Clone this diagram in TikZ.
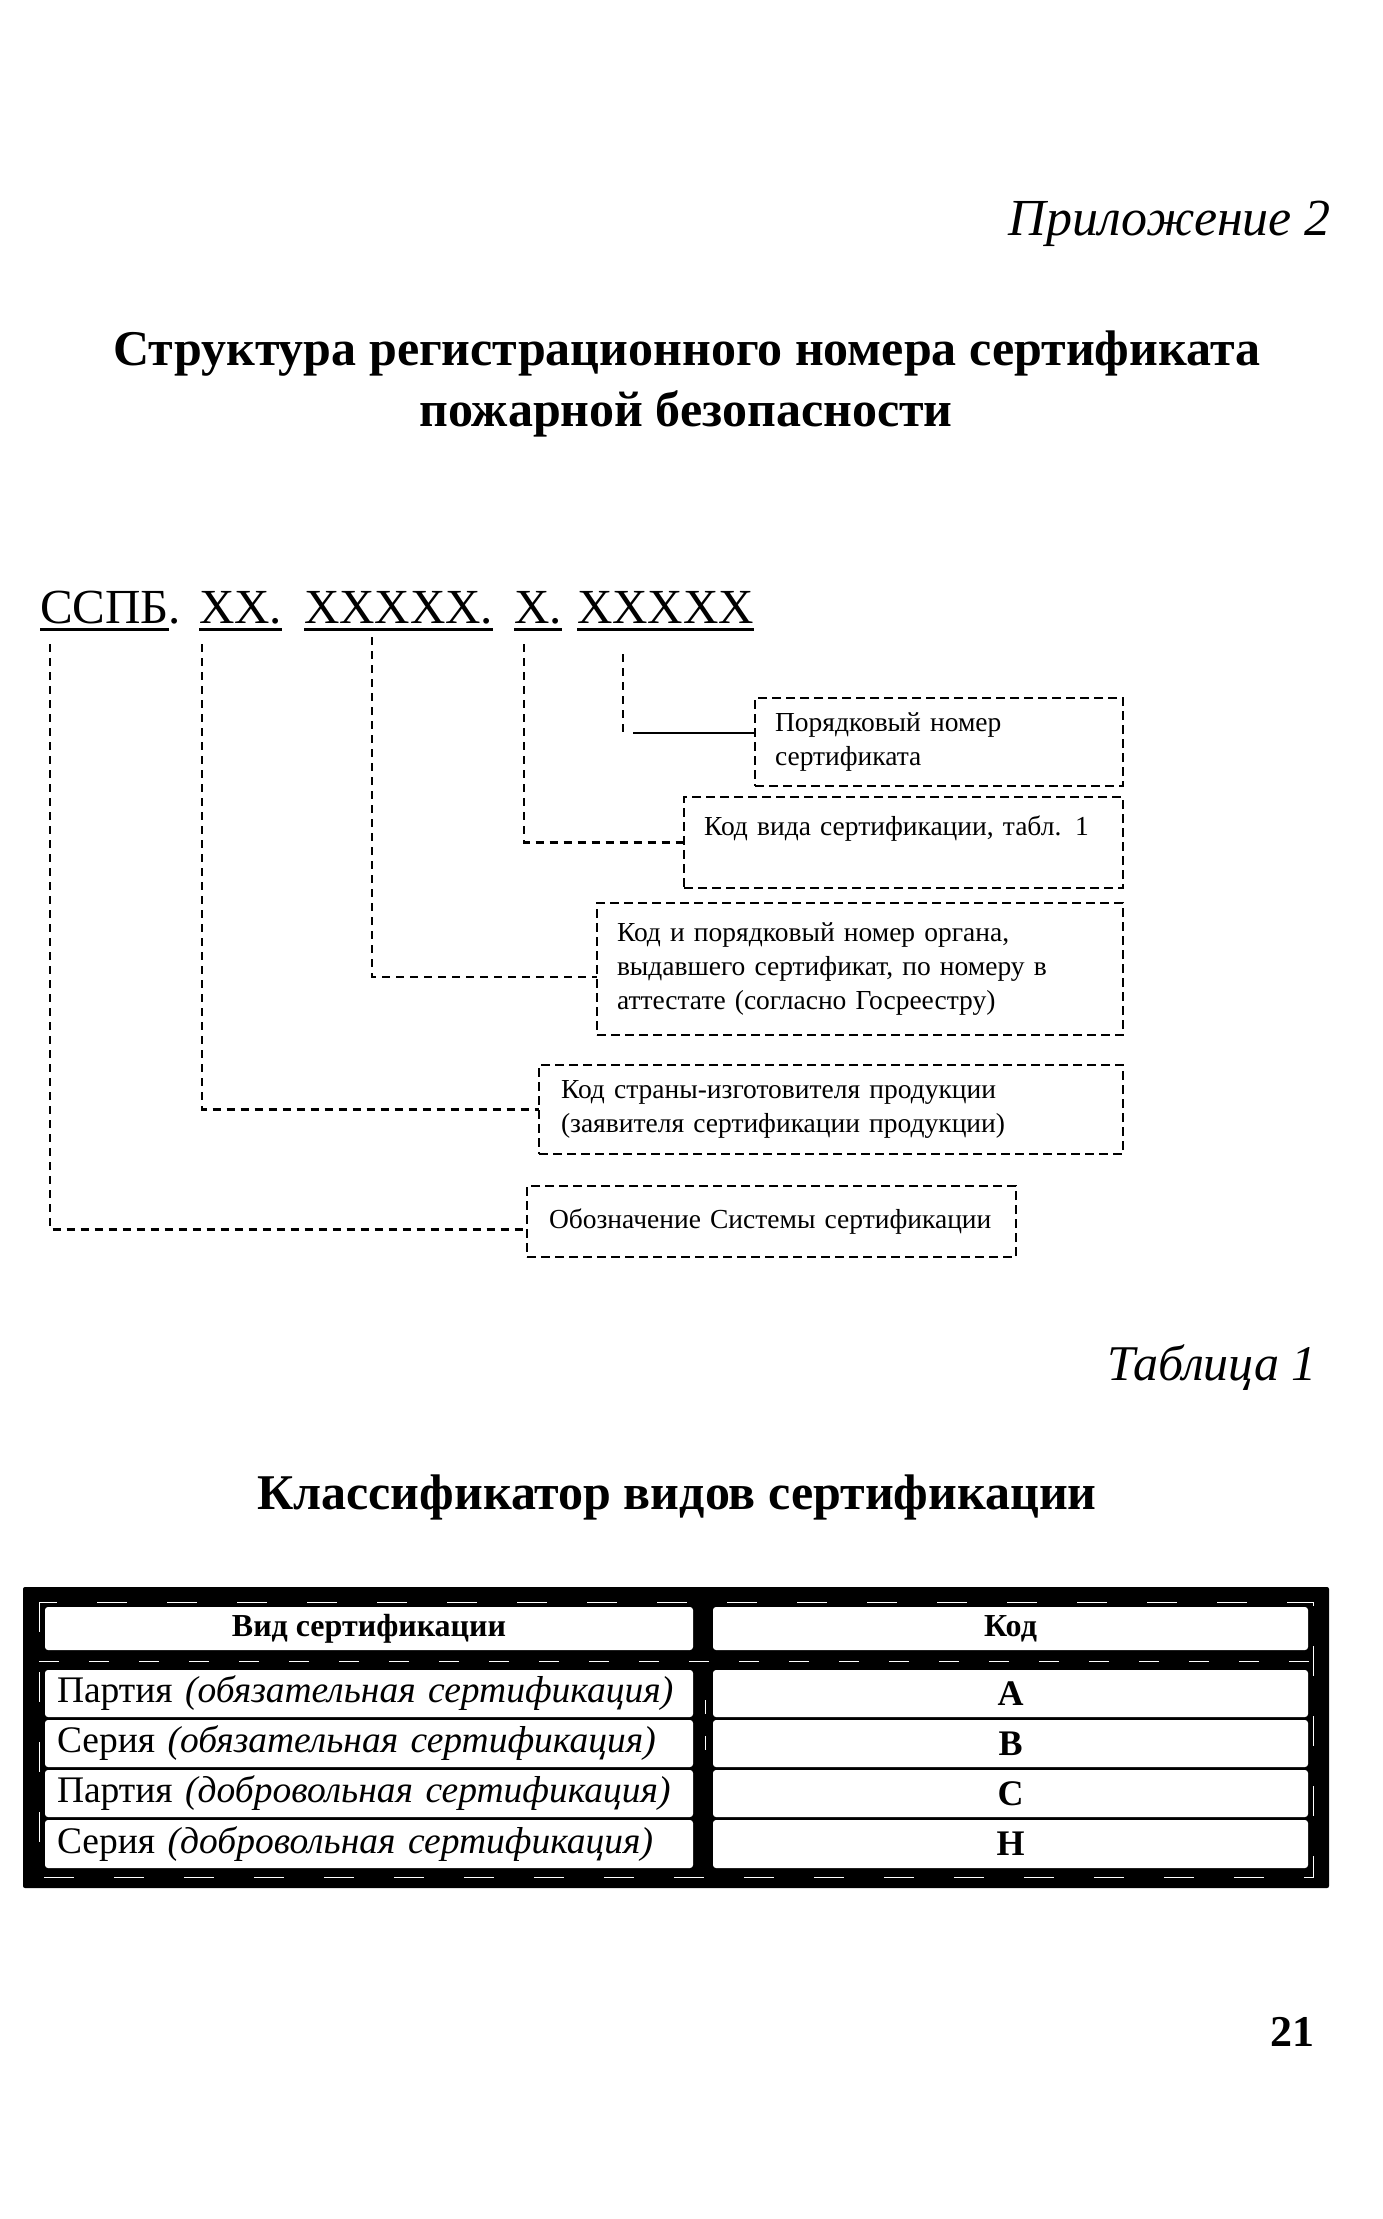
\documentclass[tikz,border=0pt]{standalone}
\usepackage{fontspec}
\setmainfont{Liberation Serif}
\usetikzlibrary{calc}
\begin{document}
\begin{tikzpicture}[x=1pt,y=-1pt,
  txt/.style={inner sep=0pt, outer sep=0pt},
  codefont/.style={txt, anchor=base west, font=\fontsize{49}{58}\selectfont},
  uline/.style={line width=3pt},
  conn/.style={line width=2.4pt, dash pattern=on 8pt off 6pt},
  lbox/.style={draw, line width=2.4pt, dash pattern=on 9pt off 5pt, anchor=north west,
    align=left, inner ysep=0pt, outer sep=0pt, font=\fontsize{27.5}{34}\selectfont},
  cellbox/.style={fill=white, rounded corners=3pt, inner ysep=0pt, outer sep=0pt, anchor=north west},
  hfont/.style={font=\fontsize{32}{38}\selectfont\bfseries},
  rfont/.style={font=\fontsize{37.5}{44}\selectfont},
  cfont/.style={font=\fontsize{36}{42}\selectfont\bfseries},
  ]
\fill[white] (0,0) rectangle (1383,2219);
\useasboundingbox (0,0) rectangle (1383,2219);

% headings
\node[txt, anchor=base east, font=\fontsize{52}{60}\selectfont\itshape] (app) at (1331,235) {Приложение 2};
\node[txt, anchor=base, font=\fontsize{50}{60}\selectfont\bfseries] (ttl1) at (687,365) {Структура регистрационного номера сертификата};
\node[txt, anchor=base, font=\fontsize{50}{60}\selectfont\bfseries] (ttl2) at (686,426) {пожарной безопасности};

% code line
\node[codefont] (g1) at (40,623) {ССПБ};
\node[codefont] (g1d) at (g1.base east) {.};
\node[codefont] (g2) at (199,623) {XX.};
\node[codefont] (g3) at (304,623) {XXXXX.};
\node[codefont] (g4) at (514,623) {X.};
\node[codefont] (g5) at (577,623) {XXXXX};
\foreach \g in {g1,g2,g3,g4,g5}
  \draw[uline] ([yshift=-6pt]\g.base west) -- ([yshift=-6pt]\g.base east);

% boxes
\node[lbox, inner xsep=20pt, text width=328pt, minimum width=368pt, minimum height=88pt] (A) at (755,698)
  {\mbox{Порядковый номер}\\\mbox{сертификата}};
\node[lbox, inner xsep=20pt, text width=399pt, minimum width=439pt, minimum height=91pt] (B) at (684,797)
  {\mbox{Код вида сертификации, табл. 1}\\\mbox{}};
\node[lbox, inner xsep=20pt, text width=486pt, minimum width=526pt, minimum height=132pt] (C) at (597,903)
  {\mbox{Код и порядковый номер органа,}\\\mbox{выдавшего сертификат, по номеру в}\\\mbox{аттестате (согласно Госреестру)}};
\node[lbox, inner xsep=22pt, text width=540pt, minimum width=584pt, minimum height=89pt] (D) at (539,1065)
  {\mbox{Код страны-изготовителя продукции}\\\mbox{(заявителя сертификации продукции)}};
\node[lbox, inner xsep=22pt, text width=445pt, minimum width=489pt, minimum height=71pt] (E) at (527,1186)
  {\mbox{Обозначение Системы сертификации}};

% connectors
\coordinate (t1) at (50,644);
\coordinate (t2) at (202,644);
\coordinate (t3) at (372,637);
\coordinate (t4) at (524,644);
\coordinate (t5) at (623,654);
\draw[conn] (t1) |- ([yshift=-8pt]E.west);
\draw[conn] (t2) |- (D.west);
\draw[conn] (t3) |- ([yshift=-8pt]C.west);
\draw[conn] (t4) |- (B.west);
\coordinate (a5) at ([yshift=9pt]A.west);
\coordinate (a5s) at (t5 |- a5);
\draw[conn] (t5) -- (a5s);
\draw[line width=2.4pt] ([xshift=10pt]a5s) -- (a5);

% table captions
\node[txt, anchor=base east, font=\fontsize{50}{60}\selectfont\itshape] (tab) at (1317,1380) {Таблица 1};
\node[txt, anchor=base, font=\fontsize{50}{60}\selectfont\bfseries] (cls) at (677,1509) {Классификатор видов сертификации};

% table
\fill[black, rounded corners=2pt] (23,1587) rectangle (1329,1888);
\draw[white, line width=1pt, dash pattern=on 30pt off 40pt] (39,1602) rectangle (1313,1877);
\draw[white, line width=1pt, dash pattern=on 20pt off 30pt] (39,1661) -- (1313,1661);
\draw[white, line width=1pt, dash pattern=on 14pt off 22pt] (705,1700) -- (705,1760);

\node[cellbox, hfont, minimum width=648pt, minimum height=43pt] (h1) at (45,1607) {Вид сертификации};
\node[cellbox, hfont, minimum width=595pt, minimum height=43pt] (h2) at (713,1607) {Код};

\node[cellbox, rfont, inner xsep=12pt, text width=624pt, align=left, minimum height=47pt] (r1) at (45,1670) {\mbox{Партия \textit{(обязательная сертификация)}}};
\node[cellbox, rfont, inner xsep=12pt, text width=624pt, align=left, minimum height=47pt] (r2) at (45,1720) {\mbox{Серия \textit{(обязательная сертификация)}}};
\node[cellbox, rfont, inner xsep=12pt, text width=624pt, align=left, minimum height=47pt] (r3) at (45,1770) {\mbox{Партия \textit{(добровольная сертификация)}}};
\node[cellbox, rfont, inner xsep=12pt, text width=624pt, align=left, minimum height=48pt] (r4) at (45,1820) {\mbox{Серия \textit{(добровольная сертификация)}}};

\node[cellbox, cfont, minimum width=595pt, minimum height=47pt] (k1) at (713,1670) {А};
\node[cellbox, cfont, minimum width=595pt, minimum height=47pt] (k2) at (713,1720) {В};
\node[cellbox, cfont, minimum width=595pt, minimum height=47pt] (k3) at (713,1770) {С};
\node[cellbox, cfont, minimum width=595pt, minimum height=48pt] (k4) at (713,1820) {Н};

% page number
\node[txt, anchor=base east, font=\fontsize{44}{52}\selectfont\bfseries] (pg) at (1314,2046) {21};
\end{tikzpicture}
\end{document}
